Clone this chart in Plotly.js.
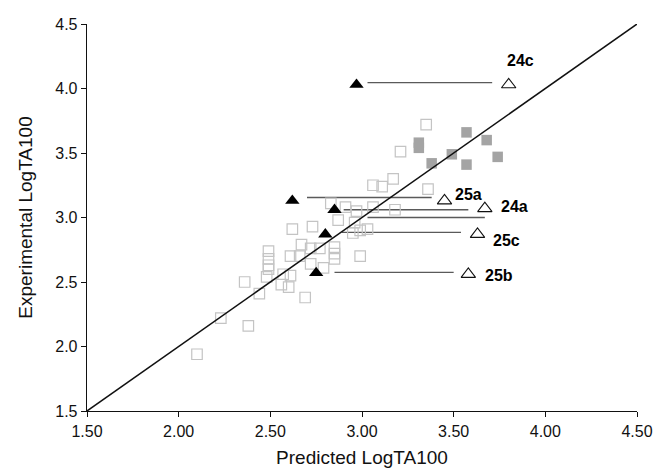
<!DOCTYPE html>
<html>
<head>
<meta charset="utf-8">
<script src="https://cdn.plot.ly/plotly-3.0.1.min.js"></script>
<style>html,body{margin:0;padding:0;background:#fff;}#chart{width:654px;height:469px;}</style>
</head>
<body>
<div id="chart"></div>
<script>
// ---- data ----
var xTickVals = [1.5, 2.0, 2.5, 3.0, 3.5, 4.0, 4.5];
var xTickLabels = ['1.50', '2.00', '2.50', '3.00', '3.50', '4.00', '4.50'];
var yTickVals = [1.5, 2.0, 2.5, 3.0, 3.5, 4.0, 4.5];
var yTickLabels = ['1.5', '2.0', '2.5', '3.0', '3.5', '4.0', '4.5'];

var identityX = [1.5, 4.5];
var identityY = [1.5, 4.5];

// training set (open squares)
var trainX = [3.35, 3.21, 3.17, 3.11, 3.06, 3.36, 2.83, 2.91, 2.97, 3.06, 3.18, 2.87, 2.96, 3.03, 2.99,
              2.62, 2.73, 2.95, 2.67, 2.85, 2.85, 2.85, 2.49, 2.49, 2.49, 2.49, 2.48, 2.61, 2.66, 2.72,
              2.77, 2.99, 2.57, 2.61, 2.72, 2.79, 2.36, 2.44, 2.56, 2.60, 2.69, 2.23, 2.38, 2.10];
var trainY = [3.72, 3.51, 3.30, 3.24, 3.25, 3.22, 3.11, 3.08, 3.05, 3.08, 3.06, 2.98, 2.96, 2.91, 2.90,
              2.91, 2.93, 2.88, 2.79, 2.77, 2.72, 2.68, 2.74, 2.68, 2.63, 2.60, 2.54, 2.70, 2.70, 2.76,
              2.76, 2.70, 2.56, 2.55, 2.64, 2.61, 2.50, 2.41, 2.48, 2.46, 2.38, 2.22, 2.16, 1.94];

// test set (grey filled squares)
var testX = [3.31, 3.31, 3.57, 3.68, 3.49, 3.38, 3.57, 3.74];
var testY = [3.58, 3.54, 3.66, 3.60, 3.49, 3.42, 3.41, 3.47];

// compounds: initial prediction (filled triangles) and corrected prediction (open triangles)
var compoundNames = ['24c', '25a', '24a', '25c', '25b'];
var initialX = [2.97, 2.62, 2.85, 2.80, 2.75];
var initialY = [4.03, 3.13, 3.06, 2.87, 2.57];
var correctedX = [3.80, 3.45, 3.67, 3.63, 3.58];
var correctedY = [4.03, 3.13, 3.07, 2.87, 2.56];

// connecting segments
var segStartX = [3.03, 2.70, 2.90, 3.03, 2.89, 2.85];
var segEndX   = [3.71, 3.38, 3.58, 3.67, 3.54, 3.50];
var segY      = [4.045, 3.155, 3.06, 3.00, 2.885, 2.575];

// ---- styles ----
var labelShiftX = [12, 24, 30, 29, 31];
var labelShiftY = [24, 6, 2, -6, -1];

var FONT = 'Liberation Sans, Arial, Helvetica, sans-serif';
var traces = [];

// segments
var sx = [], sy = [];
for (var i = 0; i < segY.length; i++) {
  sx.push(segStartX[i], segEndX[i], null);
  sy.push(segY[i], segY[i], null);
}
traces.push({x: sx, y: sy, mode: 'lines', type: 'scatter', hoverinfo: 'skip',
  line: {color: '#5a5a5a', width: 1.3}});

traces.push({x: trainX, y: trainY, mode: 'markers', type: 'scatter',
  marker: {symbol: 'square-open', size: 10.5, color: '#c4c4c4', line: {width: 1.2, color: '#c4c4c4'}}});

traces.push({x: testX, y: testY, mode: 'markers', type: 'scatter',
  marker: {symbol: 'square', size: 10.5, color: '#a4a4a4', line: {width: 0}}});

traces.push({x: identityX, y: identityY, mode: 'lines', type: 'scatter', hoverinfo: 'skip',
  line: {color: '#111', width: 1.5}});

traces.push({x: initialX, y: initialY, mode: 'markers', type: 'scatter',
  marker: {symbol: 'triangle-up', size: 12.5, color: '#000', line: {width: 0}}});

traces.push({x: correctedX, y: correctedY, mode: 'markers', type: 'scatter',
  marker: {symbol: 'triangle-up-open', size: 12.5, color: '#111', line: {width: 1.1, color: '#111'}}});

var annotations = compoundNames.map(function (n, i) {
  return {x: correctedX[i], y: correctedY[i], xref: 'x', yref: 'y', text: '<b>' + n + '</b>',
    showarrow: false, xshift: labelShiftX[i], yshift: labelShiftY[i],
    font: {family: FONT, size: 16, color: '#000'}};
});

var axisCommon = {
  showline: true, linecolor: '#111', linewidth: 1.3, mirror: false,
  ticks: 'outside', ticklen: 5, tickwidth: 1, tickcolor: '#111',
  showgrid: false, zeroline: false, tickfont: {family: FONT, size: 16, color: '#111'}
};

var layout = {
  width: 654, height: 469,
  margin: {l: 87, r: 17, t: 24, b: 58, pad: 0},
  paper_bgcolor: '#fff', plot_bgcolor: '#fff',
  showlegend: false,
  font: {family: FONT, size: 16, color: '#111'},
  xaxis: Object.assign({}, axisCommon, {
    range: [1.5, 4.5], tickmode: 'array', tickvals: xTickVals, ticktext: xTickLabels,
    title: {text: 'Predicted LogTA100', font: {family: FONT, size: 19, color: '#111'}, standoff: 12}
  }),
  yaxis: Object.assign({}, axisCommon, {
    range: [1.5, 4.5], tickmode: 'array', tickvals: yTickVals, ticktext: yTickLabels,
    title: {text: 'Experimental LogTA100', font: {family: FONT, size: 19, color: '#111'}, standoff: 17}
  }),
  annotations: annotations
};

Plotly.newPlot('chart', traces, layout, {displayModeBar: false, staticPlot: true});
</script>
</body>
</html>
